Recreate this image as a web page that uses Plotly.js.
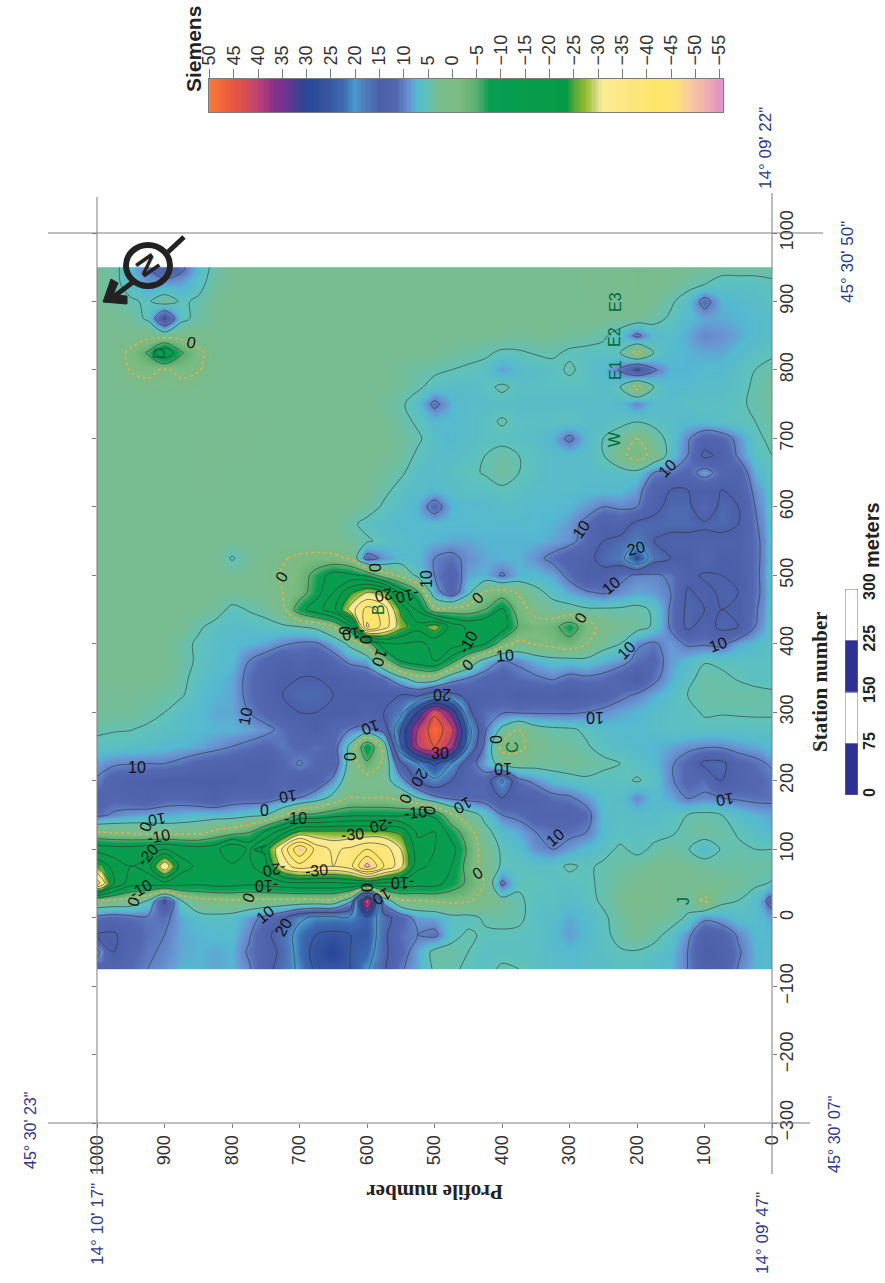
<!DOCTYPE html>
<html>
<head>
<meta charset="utf-8">
<script src="https://cdn.plot.ly/plotly-3.0.1.min.js"></script>
<style>html,body{margin:0;padding:0;background:#fff}</style>
</head>
<body>
<div id="chart" style="width:885px;height:1283px"></div>
<script>
const W = 885, H = 1283;
const profiles = [1000,975,950,925,900,875,850,825,800,775,750,725,700,675,650,625,600,575,550,525,500,475,450,425,400,375,350,325,300,275,250,225,200,175,150,125,100,75,50,25,0];
const stations = [950,925,900,875,850,825,800,775,750,725,700,675,650,625,600,575,550,525,500,475,450,425,400,375,350,325,300,275,250,225,200,175,150,125,100,75,50,25,0,-25,-50,-75];
const siemens = [
[3.5,4,7,10,14, 11,7,4,3,3, 3,3,3,3,3, 3,3,3,3,3, 3,3,3,3,3, 3,3,3,2.5,2.5, 2.5,2,1.5,2,2.5, 3,3.5,4,4,4,4],
[3.5,4,6.5,8.5,8, 8,6,3.5,3,3, 3,3,3,3,3, 3,3,3,3,3, 3,3,3,3,3, 3,3,3,3,2.5, 2.5,2,1.5,2,3, 4,5,6,6,6,5.5],
[3,3.5,4.5,5.5,3, 5.5,4.5,3,3,3, 3,3,3,3,3, 3,3,3,3,3, 3,3,3,3,3, 3,3,3,3,2.5, 2.5,2.5,2,3,4.5, 6.5,11.5,7.5,7,6.5,6],
[3,3,3.5,5.5,16, 6,4,3,3,3, 3,3,3,3,3, 3,3,3,3,3, 3,3,3,3,3, 3,3,3,3,3, 3,3,3,4,5.5, 7,8,8,7.5,7,6.5],
[3,3,2.5,1.5,2, 1.5,2.5,3,3,3, 3,3,3,3,3, 3,3,3,3,3, 3,3,3,3,3, 3.5,3,3,3.5,3.5, 4.5,6.5,11,7,6.5, 8,9.5,9,8,7,6.5],
[3,2,-1,-5.5,-15, -5.5,-1,2,3,3, 3,3,3,3,3, 3,3,3,3,3, 3,3.5,4,4.5,5.5, 5.3,4.8,4.5,5.5,6, 6,5,-1.5,5,7, 7.5,8,8,7,6,5.5],
[3,3,-0.3,-1,0.5, -1,-0.3,2,3,3, 3,3,3,3,3, 3,3,3,3.5,4, 4.5,5,5.5,6,8.5, 7,6.5,6,4.5,6, 7,10.5,16,10.5,7.5, 7.5,7,7,6,5,4],
[3,3,2,1,1.5, 1,2,3,3,3, 3,3,3,3,3, 3,3,3,3.5,4.5, 6,6.5,6.5,6,4.3, 6,6,6,6,6, 6.5,5,-1.5,5,7, 7,6.5,6.5,6,4.5,3.5],
[3,3,3,3,3, 3,3,3,3,3, 3,3,3,3,3, 3,3,3.5,4.5,6.5, 11,7.5,6.5,6.5,6.5, 6.5,6.5,6.5,6.5,6.5, 6.5,7,9.5,7,6.5, 6,6,6,5.5,4.5,3.5],
[3,3,3,3,3, 3,3,3,3,2.5, 2.5,3,3,3,3, 3,3,3,4,5.5, 7,7,6.5,6,4.6, 6,6,6,5.5,6.5, 6.5,5.8,5.2,5.8,6.5, 7,6.5,6,5.5,5,4],
[3,3,3,3,3, 3,2.5,2.5,2.5,2.5, 3,3,3,3,3, 3,3,3,3.5,4.5, 6.5,7,6.5,6,6, 6,6.5,7.5,11,7, 5,3.5,0,3.5,6, 9.5,13,12,9,5.5,4.5],
[3,3,3,3,3, 3,2.5,2.5,2.5,2.5, 3,3,3,3,3, 3,3,3,3.5,5.5, 6.5,6.5,6,5,3.8, 5,6,6.5,6.5,6.5, 5.2,1.5,-2,1.5,6.5, 10,16,14,9.5,6,5],
[3,3,3,3,3, 3,2.5,2.5,3,3, 3,3,3,3,3, 3,3,3.5,4.5,6.5, 6.5,6,5.5,4.8,3.5, 5,6,6.5,6.5,6.5, 6.5,6.5,6,10,10.5, 12,8,12,13,7.5,5.5],
[3,3,3,3,3, 3,2.5,2.5,3,3, 3,3,3,3,3, 3,3,4.2,6,6.5, 7,6.5,6,6,5.5, 6,6.5,6.5,6.5,7, 7,7,8.5,13,15, 15,15,15,14,9,6.5],
[3,3,3,3,3, 3,3,3,3,3, 3,3,3,3,3, 3,3.5,5.5,6.5,7.5, 12,7.5,7,7,6.5, 6.5,7,7,7.5,8.5, 10,9.5,10,14,16, 16,12,16,15,10,6.5],
[3,3,3,3,3, 3,3,3,3,3, 3,3,3,3,3, 4.2,6,6.5,7,7, 7,7,7,7,7, 7,7,7.5,8.5,11, 14,13,16,16,16, 16,15.5,16,15,10.5,7],
[3,3,3,3,3, 3,3,3,3,3, 3,3,3,3,3, 3.5,4.5,6,6.5,7, 7.5,8,8,7.5,7.5, 7.5,7.5,8,9,11.5, 15,16,18,15,14, 14,14,14,14,11,7.5],
[3,3,3,3,3, 3,3,3,5.3,3.5, 2.5,0.5,-1,-1.5,-1, 0.5,12,9,7,7, 10,11,9,8,7.5, 7.5,9,11,13,14, 16,18,26,17,15, 15,12,15,14.5,11,7.5],
[3,3,3,3,3, 3,3,3,3,3, 2,-0.5,-2,-7,-12, -11,-9,-2,1,6, 10,13,8,7.5,10.5, 7.5,7,8,11,15, 14,11,9.5,9.5,10.5, 14,15.5,15,15,11,7],
[3,3,3,3,3, 3,3,3,3,3, 2.5,0,-2.5,-8,-15, -24,-30,-27,-13,-6, 8,13,6,-0.5,-2, 0.5,4,6,8,9.5, 10.5,9,8,8.5,10, 15.5,14,15.5,15,11,7.5],
[3,3,3,3,3, 3,3,3.5,5.8,4.8, 4,1.5,-8,-13,-18, -32,-42,-38,-24,-14, -1,-1.5,-2,-5,-11, -2,1.5,3.5,3.5,4.5, 4.5,4.5,4,5.5,10.5, 16,15,15,15,10.5,7],
[3,3,3,3,3, 3,4.5,6,6.5,6.5, 6,5.5,5,4,0.5, -9,-46,-38,-27,-22, -28,-18,-14,-15,-13, -4,-2,-3,-8,-2, 1.5,3,3.5,5.5,10.5, 16,13,16,15,10,6.5],
[3,3,3,3,3, 4,5.5,6.5,7,7.5, 8,9.5,10.5,10.5,8, 4,-2,-14,-15,-14, -16,-18,-14,-10,-2, 1,-0.3,-1.5,-3,0, 3.5,5,9.5,10.5,8.5, 10.5,10.5,11,8,7,6],
[3,3,3,3,3, 3.8,5.5,6.5,7,10, 12,14,12.5,14,12, 9,8,-1,-10,-13, -15,-7,1,7,10, 9.5,7.5,6.5,6.5,6, 7.5,8.5,11,12,8.5, 7,5.2,5.5,6,6,6],
[3,3,3,3,3, 4.3,6,7,8,11, 13,15,15,15,15, 14,13,11,6,2, 2,8,10,12,13, 11,10.5,9.5,11,10.5, 11,13,15,11,8, 5.8,4,4.5,5.2,6,6],
[3.2,3.2,3.2,3.5,4, 4.7,6.5,7.5,8,11, 13,15,16,16,15, 15,15,15,15,14, 18,16,14,14,13, 15,14,14,15,14, 13,11,9.5,8,6.5, 5,4,4,4,4,4.5],
[3.2,3.5,3.5,4,5, 6.5,7,8,8,10, 12,14,15,15,15, 15,14,15,18,30, 44,34,16,11,10.5, 10.5,10.5,10.5,10.5,10, 9,8,7.5,6.5,6, 6,4.6,4.8,4.7,4.6,4.6],
[4.5,4.8,4.9,5.5,6, 6.5,7,7.5,7.5,8, 9,11,13,15,12, 10,9,12,25,40, 48,42,22,10.5,4, 0,3.5,4.3,4.6,5.5, 6.5,7,7,6.5,6, 6,6,6,6,6,6],
[5.8,6,6.3,6.5,7, 7.5,8,9,10,11, 12,10.5,12,11,12, 4,-10,2,24,40, 45,38,20,9,-1.5, -1.5,2.5,3.5,3.5,4.7, 6,6.5,7,7.5,8, 9,9.5,9.5,8.5,8,7],
[8.5,9.5,9.8,10,10, 11,12.5,13,13,14, 14.5,12,9.5,12,13, 3,-4,1,14,20, 26,20,12,8,3, 3,3.5,3.5,3.2,3.5, 4.3,5,6,7,9.5, 12,16,16,12.5,11,9.5],
[10.5,13,14,14,15, 15,15,15,15,14, 14,12,14,13,9, 1.5,2.5,3,8,15, 19,15,12.5,12,21, 11,9,7,6.2,5.5, 6,5.8,4.7,6,9.5, 12,11,15,13,12,11],
[13,12,13,14,12, 12,13,14,12,12, 12,10.5,10,7.5,3.5, 0,0,0,1.5,5, 9,11,11.5,12,15, 14,13,11,10.5,8.5, 6.5,6.3,9.5,6.8,8, 10.2,9.5,10,10.5,11,11],
[11,9.5,8.5,8,8, 7.5,7,7,7,6, 5,1,-5,-6,-8, -9,-9,-9,-9,-10, -9,-1,3,6,10, 11,13,13,13,11.5, 6.5,6,6.5,6.5,6, 5,4.3,5,6.5,7.5,8],
[0,0.5,1,1.5,2, 2,1.5,-1,-2.5,-4.5, -11,-18,-26,-26,-26, -26,-26,-26,-24,-14, -15,-8,-2,4,6.5, 8,10,11,11,10, 7,6.2,6,5.8,5.5, 4,3.5,4,5.3,6.5,7],
[-13,-12,-12,-13,-15, -13,-12,-13,-20,-14, -22,-36,-50,-38,-34, -36,-40,-38,-30,-17, -15,-12,-4,2.5,5.5, 6.5,9,10,8.5,7, 6,4.5,5.8,4.5,3.5, 4.8,7,4.8,4.5,5,5],
[-25,-18,-15,-17,-35, -17,-14,-14,-14,-14, -18,-32,-38,-36,-35, -38,-52,-40,-32,-16, -14,-10,-3,2,5.5, 5.5,6,6,4.5,5.5, 4.5,4,3.5,3,3, 3,3.5,4,4,4,4],
[-38,-20,-12,-12,-13, -12,-11,-12,-12,-11, -12,-13,-14,-14,-14, -15,-15,-14,-13,-12, -12,-8,-4,0.3,11, 5.5,5,6,6,5.5, 4.5,3.5,2.5,2.5,3, 3,3,3,3.5,4.5,5.2],
[0.5,1,2,5,16, 5,1.5,1,0.5,1, 1,1,1,1,1, 8,45,8,0.5,0, -0.5,-1,-0.5,1.5,3.5, 4.5,6,6,6.5,6, 4.5,3,2,2,3, 3.5,-1,4,5,6.5,12],
[11,12,11,10.5,11, 8,6.5,6,6.5,8.5, 11,14,19,21,21, 21,24,17,12.5,8.5, 8,6,6,4.5,4, 4.5,6,6.5,8,7, 5.5,3.8,2.5,3,3.5, 5.5,9,8,6.5,6.5,8],
[15,15.5,13,11,10, 8,7.5,7,7,9.5, 14,17,22,25,26, 25,25,16,11,10, 11,6,4.5,5.5,5.5, 5.5,6,7,8.5,7, 5.8,4,3,4,6, 9,14,13,9.5,7,7],
[9,15,12,10.5,9.5, 8,7.5,8,7.5,10.5, 13,16,22,27,30, 25,23,16,12,8, 4,4,5,6,6, 6,6,6.5,7,6.5, 6,5.3,5.2,6,7, 10,15,14,10.5,7.5,7],
[12,13,11.5,10,9, 7.5,7.5,8,7.5,9.5, 13.5,17,21,26,26, 25,20.5,15.5,10.5,8, 4.5,4.5,5.5,6,4.5, 5,6,6.5,7,6.5, 6.5,6,6,6.5,7, 10,14,14,9.8,7.5,7]
];
const stopZ = [-55.7,-55,-52.4,-48.9,-46.2,-43.4,-37.2,-31,-29.7,-27.7,-24.9,-23.6,-7.7,-5,-1.5,3,5.3,7.4,8.7,11.5,15,18.4,20,22.5,26,29.3,31.4,34,37,39.6,43,46.5,50.1];
const stopColor = ['#E593C4','#E593C4','#EFADB0','#F9C9A0','#FDE27A','#FDE566','#FCE67C','#FBEB93','#D6DC8A','#9DBE35','#4FA53A','#059B45','#089E52','#5AAE70','#7CBB80','#78BC92','#5FC2BA','#55B8D2','#6A96D3','#5468B2','#4C60AA','#4F7FBB','#4A9CCF','#3C6AB0','#36549F','#27499A','#3A4290','#6A3590','#8C3088','#B8407A','#D94F4F','#F15F3A','#F47B3A'];
const barTicks = [50,45,40,35,30,25,20,15,10,5,0,-5,-10,-15,-20,-25,-30,-35,-40,-45,-50,-55];
const profileTicks = [1000,900,800,700,600,500,400,300,200,100,0];
const stationTicks = [1000,900,800,700,600,500,400,300,200,100,0,-100,-200,-300];
const scaleStart = [0,75,150,225];
const scaleLen = [75,75,75,75];
const scaleColor = ['#2E3192','#ffffff','#2E3192','#ffffff'];
const scaleTicks = [0,75,150,225,300];
// contour labels: text, page x, page y, angle
const contourLabels = [
['0',191,342,12],['10',667,468,-45],['10',581,529,-55],['0',375,568,-90],['0',281,577,-60],['10',426,579,-90],
['-20',387,595,168],['-10',408,596,168],['-10',354,633,170],['0',345,631,-90],['0',367,640,-90],['10',380,658,110],
['10',245,716,-80],['10',137,767,0],['10',370,727,160],['0',350,757,-90],['20',420,778,120],['10',288,797,170],
['0',405,799,-70],['-10',415,812,-5],['0',264,811,0],['-10',295,818,0],['10',157,820,170],['0',145,827,-70],
['-10',158,836,-10],['-20',147,855,-50],['-30',352,834,-3],['-20',382,826,170],['-20',275,870,170],['-30',316,870,-5],
['-10',140,889,-30],['0',133,902,-70],['-10',267,886,180],['0',248,898,-70],['10',265,914,-40],['20',283,927,-60],
['0',367,888,-90],['10',382,897,150],['-10',403,883,180],['0',477,598,-45],['10',611,585,-40],['20',636,548,-15],
['10',718,644,-20],['10',626,650,-45],['0',580,618,-60],['10',505,655,-5],['-10',468,643,-60],['0',467,665,-45],
['20',442,695,180],['30',440,754,0],['10',595,718,180],['0',496,739,90],['10',503,769,180],['0',430,811,-80],
['10',463,806,150],['10',555,837,-40],['10',725,800,170],['0',477,873,-30]
];
const siteLabels = [['A',260,850],['B',378,610],['C',513,747],['D',159,353],['E1',615,370],['E2',615,337],['E3',615,302],['W',615,439],['J',683,901]];
const coordLabels = [
['14° 09\' 22"',765,148,17],
['45° 30\' 50"',847,262,17],
['45° 30\' 23"',30,1131,16],
['14° 10\' 17"',97,1224,17],
['45° 30\' 07"',834,1135,16],
['14° 09\' 47"',762,1233,17]
];

const px = v => v / W;
const py = v => 1 - v / H;
const edges = a => [a[0]].concat(a.slice(1).map((v, i) => (v + a[i]) / 2), [a[a.length - 1]]);
const colorscale = stopZ.map((z, i) => [(z - stopZ[0]) / (stopZ[stopZ.length - 1] - stopZ[0]), stopColor[i]]);
const zmin = stopZ[0], zmax = stopZ[stopZ.length - 1];
const barLevels = [];
for (let v = 50; v >= -55.5; v -= 0.5) barLevels.push(v);

const FONT = 'Liberation Sans, Arial, sans-serif';
const SERIF = 'Liberation Serif, Times New Roman, serif';
const GREY = '#7c7c7c';
const tickFont = {family: FONT, size: 18, color: '#333'};
const lineStyle = {color: '#333', width: 0.6, smoothing: 1};

const traces = [
  {type: 'heatmap', x: edges(profiles), y: edges(stations), z: siemens, colorscale, zmin, zmax, zsmooth: 'best', showscale: false, hoverinfo: 'skip'},
  {type: 'contour', x: profiles, y: stations, z: siemens, autocontour: false, showscale: false, hoverinfo: 'skip',
   contours: {start: 5, end: 50, size: 5, coloring: 'none'}, line: lineStyle},
  {type: 'contour', x: profiles, y: stations, z: siemens, autocontour: false, showscale: false, hoverinfo: 'skip',
   contours: {start: -55, end: -5, size: 5, coloring: 'none'}, line: lineStyle},
  {type: 'contour', x: profiles, y: stations, z: siemens, autocontour: false, showscale: false, hoverinfo: 'skip',
   contours: {start: 0, end: 0.5, size: 1, coloring: 'none'}, line: {color: '#E8AE4A', width: 1.5, dash: 'dot', smoothing: 1}},
  {type: 'heatmap', x: barLevels, y: [0, 1], z: [barLevels, barLevels], xaxis: 'x2', yaxis: 'y2', colorscale, zmin, zmax, showscale: false, hoverinfo: 'skip'},
  {type: 'bar', x: [0, 0, 0, 0], y: scaleLen, base: scaleStart, width: 1, xaxis: 'x3', yaxis: 'y3', hoverinfo: 'skip',
   marker: {color: scaleColor, line: {color: '#7b6f9c', width: 1}}, showlegend: false}
];

const annotations = [];
const note = (text, x, y, angle, font) => annotations.push({text, x: px(x), y: py(y), xref: 'paper', yref: 'paper', showarrow: false, textangle: angle, font, xanchor: 'center', yanchor: 'middle'});
contourLabels.forEach(l => note(l[0], l[1], l[2], l[3], {family: FONT, size: 16, color: '#111'}));
siteLabels.forEach(l => note(l[0], l[1], l[2], -90, {family: FONT, size: 16, color: '#00693E'}));
coordLabels.forEach(l => note(l[0], l[1], l[2], -90, {family: FONT, size: l[3], color: '#2E3A87'}));
note('Siemens', 193, 49, -90, {family: FONT, size: 21, color: '#222', weight: 700});
note('Profile number', 435, 1192, 180, {family: SERIF, size: 21, color: '#222', weight: 700});
note('Station number', 820, 682, -90, {family: SERIF, size: 21, color: '#222', weight: 700});
note('meters', 872, 535, -90, {family: FONT, size: 20, color: '#222', weight: 700});
note('N', 148, 265, 55, {family: FONT, size: 28, color: '#222', weight: 700});

const seg = (x0, y0, x1, y1, color, width) => ({type: 'line', xref: 'paper', yref: 'paper', x0: px(x0), y0: py(y0), x1: px(x1), y1: py(y1), line: {color, width}});
const poly = pts => 'M ' + pts.map(p => px(p[0]) + ' ' + py(p[1])).join(' L ') + ' Z';
const shapes = [
  seg(97, 197, 97, 1174, GREY, 1), seg(772, 193, 772, 1174, GREY, 1),
  seg(48, 233, 823, 233, GREY, 1), seg(48, 1123, 810, 1123, GREY, 1),
  {type: 'circle', xref: 'paper', yref: 'paper', x0: px(126), x1: px(170), y0: py(286), y1: py(245), line: {color: '#222', width: 6}},
  seg(184, 237, 168, 252, '#222', 5), seg(133, 282, 112, 298, '#222', 5),
  {type: 'path', xref: 'paper', yref: 'paper', path: poly([[111,279],[103,302],[127,304],[127,296],[113,295],[118,283]]), fillcolor: '#222', line: {color: '#222', width: 1}}
];

const layout = {
  width: W, height: H, margin: {l: 0, r: 0, t: 0, b: 0}, paper_bgcolor: '#fff', plot_bgcolor: 'rgba(0,0,0,0)', showlegend: false,
  font: {family: FONT},
  xaxis: {domain: [px(97), px(772)], range: [1000, 0], anchor: 'y', side: 'bottom', tickvals: profileTicks, tickangle: -90, tickfont: tickFont,
          ticks: 'outside', ticklen: 4, tickcolor: GREY, showline: false, showgrid: false, zeroline: false},
  yaxis: {domain: [py(1123), py(233)], range: [-300, 1000], anchor: 'x', side: 'right', tickvals: stationTicks, tickangle: -90, tickfont: tickFont,
          ticks: 'outside', ticklen: 4, ticklabelstandoff: -6, tickcolor: GREY, mirror: 'allticks', showline: false, showgrid: false, zeroline: false},
  xaxis2: {domain: [px(209), px(723)], range: [50.1, -55.7], anchor: 'y2', side: 'top', tickvals: barTicks, tickangle: -90, tickfont: tickFont,
           ticks: 'outside', ticklen: 9, tickcolor: GREY, showline: true, linecolor: GREY, mirror: true, showgrid: false, zeroline: false},
  yaxis2: {domain: [py(112), py(79)], range: [0, 1], anchor: 'x2', showticklabels: false, ticks: '', showline: true, linecolor: GREY, mirror: true, showgrid: false, zeroline: false},
  xaxis3: {domain: [px(845), px(858)], range: [-0.5, 0.5], anchor: 'y3', visible: false},
  yaxis3: {domain: [py(795), py(589)], range: [0, 300], anchor: 'x3', side: 'right', tickvals: scaleTicks, tickangle: -90, ticks: '',
           tickfont: {family: FONT, size: 16, color: '#222', weight: 700}, showline: false, showgrid: false, zeroline: false},
  annotations, shapes
};
Plotly.newPlot('chart', traces, layout, {displayModeBar: false, staticPlot: true});
</script>
</body>
</html>
